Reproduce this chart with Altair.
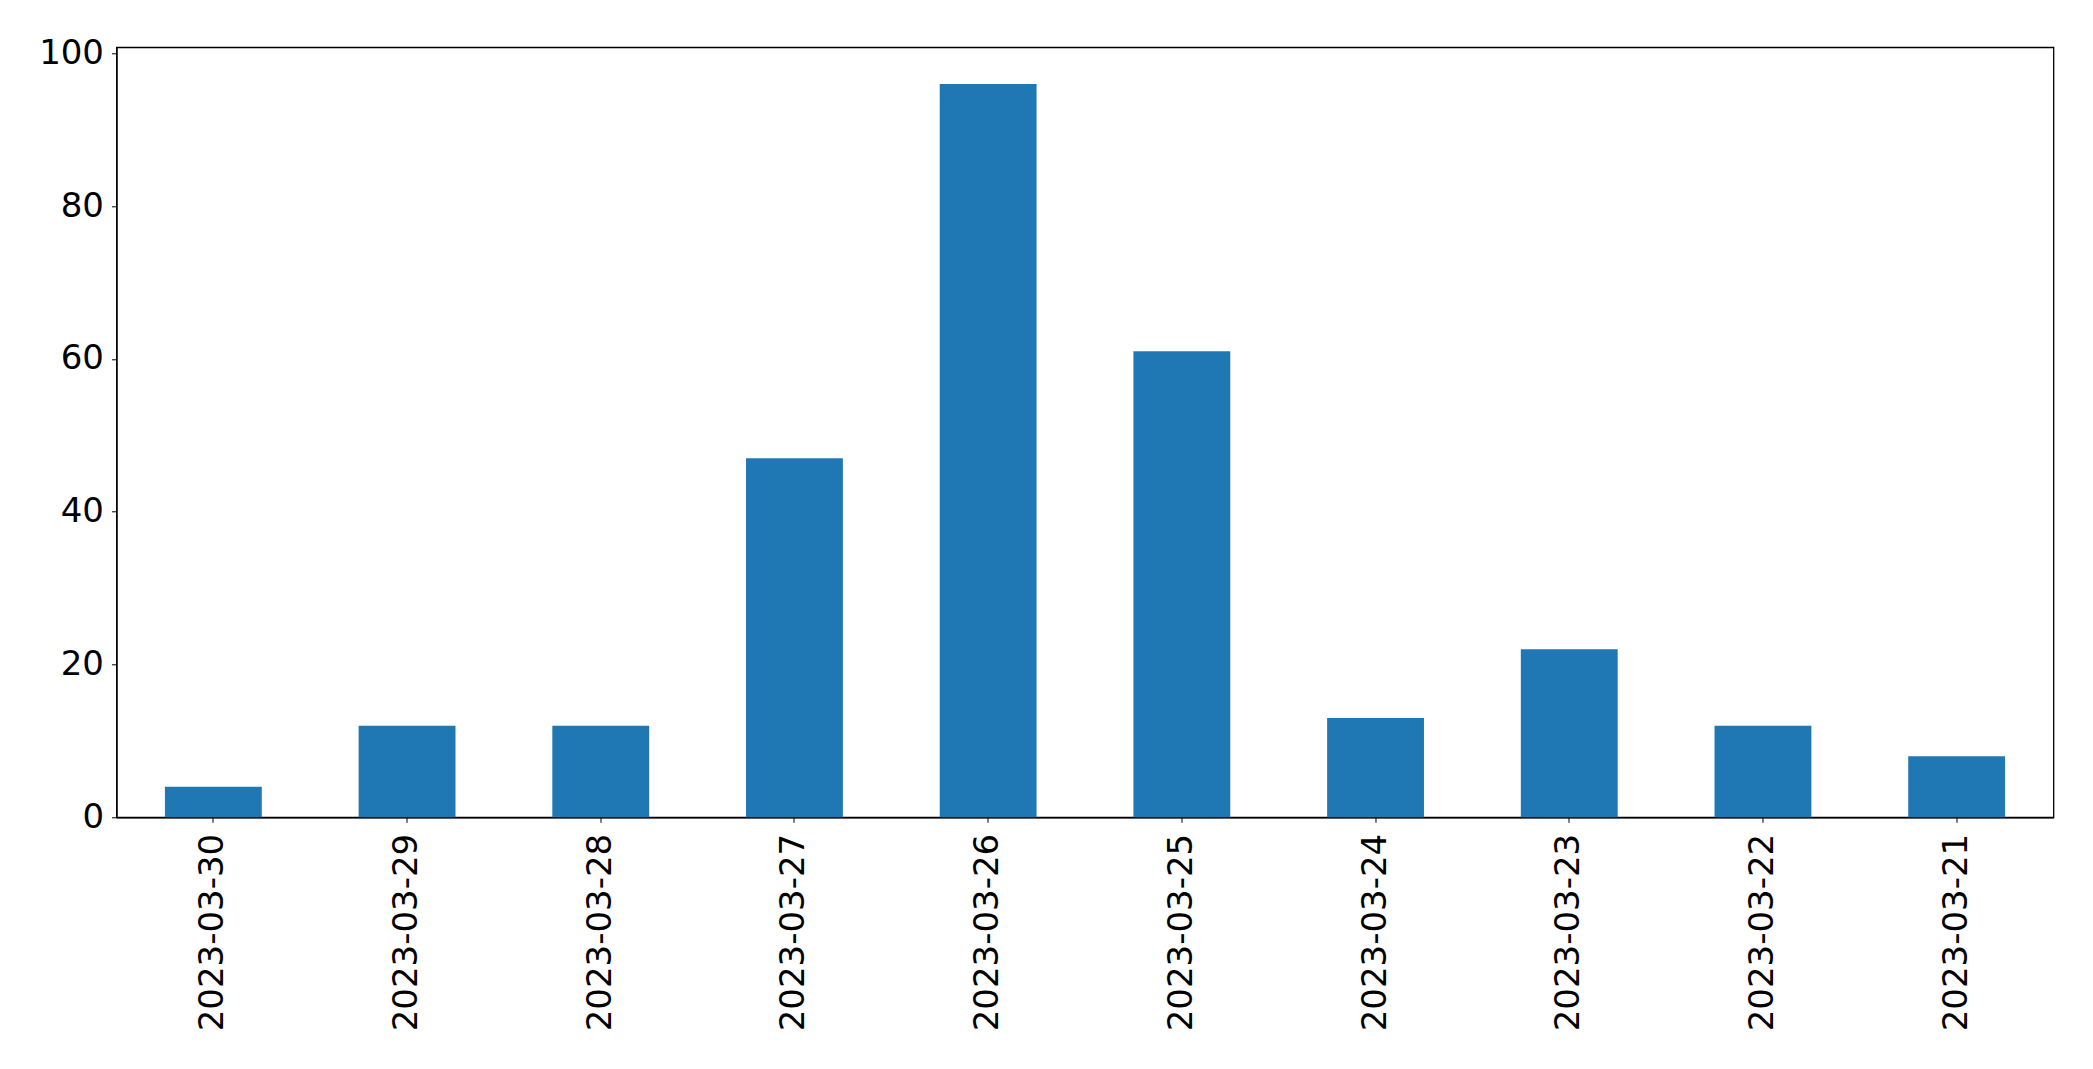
import altair as alt
import pandas as pd

dates = ["2023-03-30", "2023-03-29", "2023-03-28", "2023-03-27", "2023-03-26",
         "2023-03-25", "2023-03-24", "2023-03-23", "2023-03-22", "2023-03-21"]
counts = [4, 12, 12, 47, 96, 61, 13, 22, 12, 8]

df = pd.DataFrame({"date": dates, "count": counts})

chart = alt.Chart(df).mark_bar(color="#1f77b4").encode(
    x=alt.X("date:N", sort=dates, title=None,
            scale=alt.Scale(paddingInner=0.5, paddingOuter=0.25),
            axis=alt.Axis(labelAngle=-90, labelFont="DejaVu Sans", labelFontSize=34,
                          labelColor="black", tickColor="black", tickSize=5,
                          labelPadding=11, domainColor="black", domainWidth=1.3,
                          labelAlign="right", labelBaseline="middle", labelLimit=1000)),
    y=alt.Y("count:Q", title=None,
            scale=alt.Scale(domain=[0, 100.8], nice=False),
            axis=alt.Axis(values=[0, 20, 40, 60, 80, 100], labelFont="DejaVu Sans",
                          labelFontSize=34, labelColor="black", tickColor="black",
                          tickSize=5, labelPadding=8, domainColor="black",
                          domainWidth=1.3, grid=False)),
).properties(
    width=1937,
    height=770,
    autosize=alt.AutoSizeParams(type="none"),
    padding={"left": 108.5, "top": 39.3, "right": 30, "bottom": 240},
    background="white",
).configure_view(
    stroke="black", strokeWidth=1.3
)

chart.save("out.html", embed_options={"renderer": "svg", "actions": False})
